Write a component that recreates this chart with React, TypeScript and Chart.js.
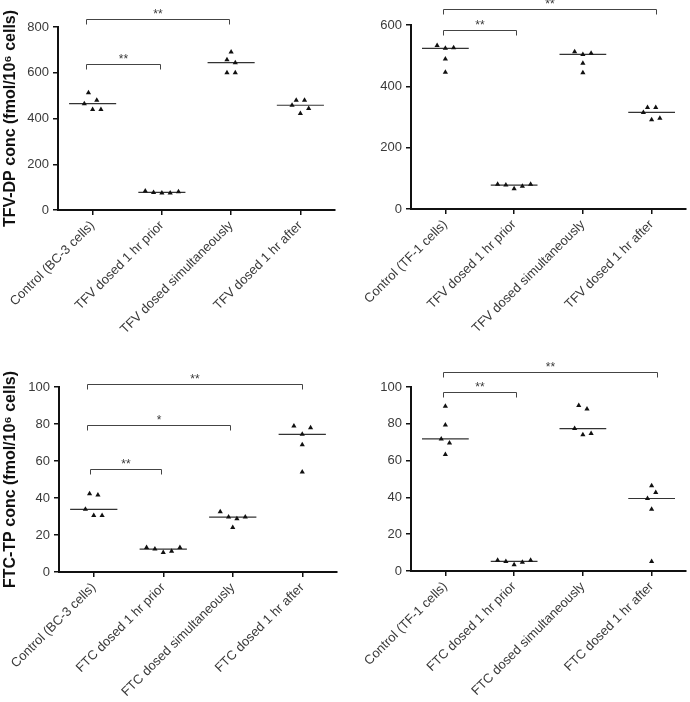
import React, { useEffect, useRef } from "react";
import { Chart, registerables } from "chart.js";

Chart.register(...registerables);

// ---------- DATA ----------
const tfvBc3Labels = ["Control (BC-3 cells)", "TFV dosed 1 hr prior", "TFV dosed simultaneously", "TFV dosed 1 hr after"];
const tfvBc3Values = [
  [513, 480, 465, 439, 439],
  [83, 77, 74, 74, 80],
  [691, 657, 644, 600, 600],
  [480, 480, 458, 444, 422],
];
const tfvBc3Jitter = [
  [-0.06, 0.06, -0.12, 0, 0.12],
  [-0.24, -0.12, 0, 0.12, 0.24],
  [0, -0.06, 0.06, -0.06, 0.06],
  [-0.06, 0.06, -0.12, 0.12, 0],
];
const tfvBc3Brackets = [
  { from: -0.09, to: 0.98, y: 637, label: "**" },
  { from: -0.09, to: 1.97, y: 833, label: "**" },
];

const tfvTf1Labels = ["Control (TF-1 cells)", "TFV dosed 1 hr prior", "TFV dosed simultaneously", "TFV dosed 1 hr after"];
const tfvTf1Values = [
  [533, 524, 526, 489, 446],
  [81, 78, 66, 74, 81],
  [513, 504, 508, 475, 444],
  [331, 331, 315, 291, 296],
];
const tfvTf1Jitter = [
  [-0.12, 0, 0.12, 0, 0],
  [-0.24, -0.12, 0, 0.12, 0.24],
  [-0.12, 0, 0.12, 0, 0],
  [-0.06, 0.06, -0.12, 0, 0.12],
];
const tfvTf1Brackets = [
  { from: -0.03, to: 1.02, y: 584, label: "**" },
  { from: -0.03, to: 3.07, y: 652, label: "**" },
];

const ftcBc3Labels = ["Control (BC-3 cells)", "FTC dosed 1 hr prior", "FTC dosed simultaneously", "FTC dosed 1 hr after"];
const ftcBc3Values = [
  [42.3, 41.6, 33.9, 30.6, 30.6],
  [13.2, 12.4, 10.5, 11.2, 13.2],
  [32.6, 29.7, 28.8, 29.7, 24.0],
  [78.9, 78.0, 74.4, 68.8, 54.1],
];
const ftcBc3Jitter = [
  [-0.06, 0.06, -0.12, 0, 0.12],
  [-0.24, -0.12, 0, 0.12, 0.24],
  [-0.18, -0.06, 0.06, 0.18, 0],
  [-0.12, 0.12, 0, 0, 0],
];
const ftcBc3Brackets = [
  { from: -0.05, to: 0.97, y: 55.7, label: "**" },
  { from: -0.09, to: 1.96, y: 79.3, label: "*" },
  { from: -0.09, to: 3.0, y: 101.8, label: "**" },
];

const ftcTf1Labels = ["Control (TF-1 cells)", "FTC dosed 1 hr prior", "FTC dosed simultaneously", "FTC dosed 1 hr after"];
const ftcTf1Values = [
  [89.5, 79.4, 71.8, 69.6, 63.3],
  [5.8, 5.2, 3.4, 4.7, 5.8],
  [89.9, 88.1, 77.4, 74.0, 74.7],
  [46.3, 42.7, 39.4, 33.6, 5.2],
];
const ftcTf1Jitter = [
  [0, 0, -0.06, 0.06, 0],
  [-0.24, -0.12, 0, 0.12, 0.24],
  [-0.06, 0.06, -0.12, 0, 0.12],
  [0, 0.06, -0.06, 0, 0],
];
const ftcTf1Brackets = [
  { from: -0.03, to: 1.02, y: 97.5, label: "**" },
  { from: -0.03, to: 3.08, y: 108.3, label: "**" },
];

const tfvTitle = "TFV-DP conc (fmol/10\u2076 cells)";
const ftcTitle = "FTC-TP conc (fmol/10\u2076 cells)";

// ---------- HELPERS ----------
const FONT = "'Liberation Sans', Arial, sans-serif";
const AXIS = "#111";
const TEXT = "#3a3a3a";

function median(arr: number[]) {
  const s = [...arr].sort((a, b) => a - b);
  return s[Math.floor(s.length / 2)];
}

type Bracket = { from: number; to: number; y: number; label: string };

type PanelProps = {
  labels: string[];
  values: number[][];
  jitter: number[][];
  brackets: Bracket[];
  yMax: number;
  yStep: number;
  title?: string;
  width: number;
  height: number;
  left: number;
  top: number;
  yWidth: number;
  xHeight: number;
  padTop: number;
  padRight: number;
};

function Panel(p: PanelProps) {
  const ref = useRef<HTMLCanvasElement | null>(null);
  useEffect(() => {
    if (!ref.current) return;
    const datasets: any[] = [];
    p.values.forEach((vals, i) => {
      datasets.push({
        type: "scatter",
        data: vals.map((v, k) => ({ x: i + p.jitter[i][k], y: v })),
        pointStyle: "triangle",
        pointRadius: 3,
        backgroundColor: "#111",
        borderColor: "#111",
        borderWidth: 0,
      });
      const m = median(vals);
      datasets.push({
        type: "scatter",
        showLine: true,
        data: [
          { x: i - 0.34, y: m },
          { x: i + 0.34, y: m },
        ],
        pointRadius: 0,
        borderColor: "#333",
        borderWidth: 1.2,
      });
    });

    const bracketPlugin = {
      id: "brackets",
      afterDraw(chart: any) {
        const { ctx } = chart;
        const xs = chart.scales.x;
        const ys = chart.scales.y;
        ctx.save();
        ctx.strokeStyle = "#444";
        ctx.lineWidth = 1;
        ctx.fillStyle = TEXT;
        ctx.font = `12px ${FONT}`;
        ctx.textAlign = "center";
        ctx.textBaseline = "bottom";
        for (const b of p.brackets) {
          const x1 = Math.round(xs.getPixelForValue(b.from)) + 0.5;
          const x2 = Math.round(xs.getPixelForValue(b.to)) + 0.5;
          const yy = Math.round(ys.getPixelForValue(b.y)) + 0.5;
          ctx.beginPath();
          ctx.moveTo(x1, yy + 5);
          ctx.lineTo(x1, yy);
          ctx.lineTo(x2, yy);
          ctx.lineTo(x2, yy + 5);
          ctx.stroke();
          ctx.fillText(b.label, (x1 + x2) / 2, yy + 1);
        }
        ctx.restore();
      },
    };

    const chart = new Chart(ref.current, {
      type: "scatter",
      data: { datasets },
      plugins: [bracketPlugin],
      options: {
        animation: false,
        responsive: false,
        maintainAspectRatio: false,
        layout: { padding: { left: 0, right: p.padRight, top: p.padTop, bottom: 0 } },
        plugins: { legend: { display: false }, tooltip: { enabled: false } },
        scales: {
          x: {
            type: "linear",
            min: -0.5,
            max: 3.5,
            afterBuildTicks: (ax: any) => {
              ax.ticks = p.labels.map((_, i) => ({ value: i }));
            },
            afterFit: (s: any) => {
              s.height = p.xHeight;
            },
            ticks: {
              autoSkip: false,
              minRotation: 45,
              maxRotation: 45,
              padding: 3,
              color: TEXT,
              font: { family: FONT, size: 13 },
              callback: (v: any) => p.labels[v as number] ?? "",
            },
            grid: { display: true, drawOnChartArea: false, drawTicks: true, tickLength: 5, color: AXIS, lineWidth: 1.5 },
            border: { display: true, color: AXIS, width: 2 },
          },
          y: {
            type: "linear",
            min: 0,
            max: p.yMax,
            afterFit: (s: any) => {
              s.width = p.yWidth;
            },
            ticks: {
              stepSize: p.yStep,
              padding: 4,
              color: TEXT,
              font: { family: FONT, size: 13 },
            },
            grid: { display: true, drawOnChartArea: false, drawTicks: true, tickLength: 5, color: AXIS, lineWidth: 1.5 },
            border: { display: true, color: AXIS, width: 2 },
            title: {
              display: !!p.title,
              text: p.title || "",
              color: "#111",
              font: { family: FONT, size: 16, weight: "bold" },
              padding: { top: 1, bottom: 0 },
            },
          },
        },
      } as any,
    });
    return () => chart.destroy();
  }, []);
  return (
    <canvas
      ref={ref}
      width={p.width}
      height={p.height}
      style={{ position: "absolute", left: p.left, top: p.top, width: p.width, height: p.height, display: "block" }}
    />
  );
}

export default function App() {
  return (
    <div style={{ position: "absolute", left: 0, top: 0, width: 690, height: 702, background: "#fff", overflow: "hidden" }}>
      <Panel
        labels={tfvBc3Labels} values={tfvBc3Values} jitter={tfvBc3Jitter} brackets={tfvBc3Brackets}
        yMax={800} yStep={200} title={tfvTitle}
        width={345} height={345} left={0} top={0} yWidth={58} xHeight={135} padTop={27} padRight={10}
      />
      <Panel
        labels={tfvTf1Labels} values={tfvTf1Values} jitter={tfvTf1Jitter} brackets={tfvTf1Brackets}
        yMax={600} yStep={200}
        width={345} height={345} left={345} top={0} yWidth={66} xHeight={136} padTop={25} padRight={2}
      />
      <Panel
        labels={ftcBc3Labels} values={ftcBc3Values} jitter={ftcBc3Jitter} brackets={ftcBc3Brackets}
        yMax={100} yStep={20} title={ftcTitle}
        width={345} height={357} left={0} top={345} yWidth={59} xHeight={130} padTop={42} padRight={8}
      />
      <Panel
        labels={ftcTf1Labels} values={ftcTf1Values} jitter={ftcTf1Jitter} brackets={ftcTf1Brackets}
        yMax={100} yStep={20}
        width={345} height={357} left={345} top={345} yWidth={66} xHeight={131} padTop={42} padRight={2}
      />
    </div>
  );
}
